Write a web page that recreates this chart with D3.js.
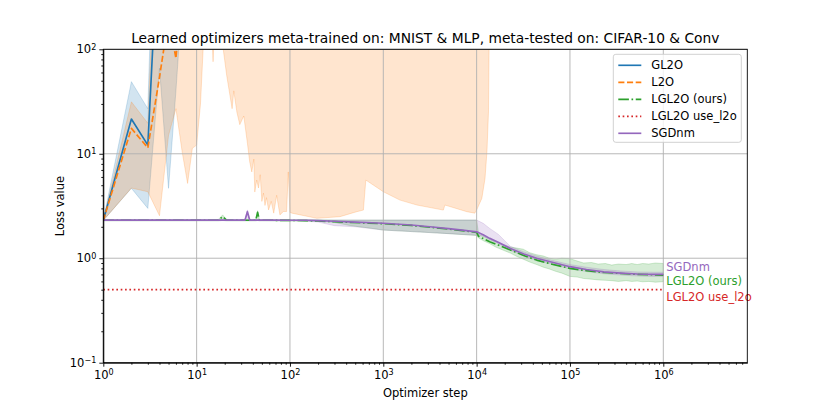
<!DOCTYPE html>
<html>
<head>
<meta charset="utf-8">
<script src="https://cdn.jsdelivr.net/npm/d3@7"></script>
<style>
  html, body { margin: 0; padding: 0; background: #fff; }
  svg text { font-family: 'DejaVu Sans', sans-serif; fill: #000; }
</style>
</head>
<body>
<svg id="chart" width="830" height="415"></svg>
<script>
// GL2O (diverges after a few steps)
const gl2oSteps = [1, 2, 3, 4, 5, 6, 7, 8];
const gl2oMean = [2.3, 21.5, 12.1, 2000, 3000, 5000, 8000, 10000];
const gl2oLow = [2.3, 4.67, 3.0, 66, 4.67, 40, 300, 1000];
const gl2oHigh = [2.3, 49, 27, 1e5, 1e5, 1e5, 1e5, 1e5];

// L2O
const l2oSteps = [1, 2, 3, 4, 5, 6, 7, 8, 20, 100, 1000, 13700];
const l2oMean = [2.3, 17.5, 11.4, 54, 200, 82, 400, 900, 3000, 5000, 8000, 10000];
const l2oHighSteps = [1, 2, 3, 4, 13700];
const l2oHigh = [2.3, 31.4, 19.6, 1e4, 1e4];
const l2oLowSteps = [1, 2, 3, 4, 5, 6, 7, 8, 9, 10, 11, 12, 14, 15, 16, 19, 21, 24, 25, 27,
  29, 32, 35, 37, 39, 41, 42, 44, 46, 48, 50, 52, 54, 56, 59, 63, 67, 72, 78, 85,
  92, 96, 100, 105, 194, 344, 520, 612, 650, 1000, 1510, 2290, 4400, 4570, 7850, 9550,
  10000, 11370, 12300, 12900, 13400, 13700];
const l2oLow = [2.3, 4.7, 4.33, 2.55, 15, 27, 10.4, 5.2, 11.3, 12.1, 30, 150, 300, 76, 300, 110, 56, 27, 40, 25,
  19, 23, 12.6, 8.4, 6.7, 8.9, 4.3, 5.6, 4.7, 6.3, 3.5, 4.2, 3.2, 3.8, 2.9, 3.5, 2.7, 4.0, 2.6, 2.8,
  2.8, 6.7, 2.75, 2.7, 2.41, 2.5, 2.79, 2.89, 5.6, 4.33, 3.6, 3.23, 2.89, 3.23, 2.79, 2.7,
  2.89, 3.74, 5.8, 10.5, 25, 200];

// LGL2O (ours)
const lgSteps = [1, 5, 10, 17, 19, 21, 43, 45, 47, 60, 100, 150, 200, 300, 450, 700, 1000, 2000, 3160, 5000,
  7000, 10000, 10500, 12000, 13800, 17000, 23000, 32000, 44000, 60000, 100000, 150000, 230000, 350000, 525000, 750000, 1000000];
const lgMean = [2.31, 2.31, 2.31, 2.31, 2.5, 2.31, 2.31, 2.75, 2.31, 2.31, 2.30, 2.29, 2.27, 2.24, 2.2, 2.17, 2.14, 2.06, 1.98, 1.9,
  1.84, 1.77, 1.62, 1.53, 1.44, 1.34, 1.2, 1.06, 0.96, 0.89, 0.80, 0.76, 0.73, 0.715, 0.70, 0.695, 0.69];
const lgBandSteps = [1, 10, 17, 19, 21, 43, 45, 47, 100, 200, 300, 450, 700, 1000, 2000, 3160, 5000, 10000,
  10500, 12000, 13800, 16000, 19000, 23000, 27000, 31600, 37000, 44000, 52000, 60000, 70000, 82000, 100000,
  120000, 140000, 170000, 200000, 240000, 280000, 330000, 400000, 460000, 525000, 600000, 700000, 820000, 1000000];
const lgHigh = [2.34, 2.34, 2.34, 2.6, 2.34, 2.34, 2.85, 2.34, 2.34, 2.33, 2.32, 2.32, 2.32, 2.32, 2.32, 2.32, 2.32, 2.32,
  1.70, 1.62, 1.52, 1.45, 1.36, 1.28, 1.25, 1.22, 1.13, 1.08, 1.05, 1.0, 0.98, 1.0, 0.99,
  0.94, 0.90, 0.91, 0.88, 0.89, 0.86, 0.88, 0.87, 0.89, 0.87, 0.89, 0.88, 0.9, 0.89];
const lgLow = [2.28, 2.28, 2.28, 2.3, 2.28, 2.28, 2.3, 2.28, 2.27, 2.26, 2.2, 2.05, 1.95, 1.86, 1.8, 1.76, 1.72, 1.65,
  1.56, 1.46, 1.38, 1.28, 1.2, 1.12, 1.04, 0.98, 0.92, 0.87, 0.82, 0.79, 0.75, 0.72, 0.67,
  0.66, 0.64, 0.63, 0.62, 0.615, 0.61, 0.6, 0.61, 0.6, 0.605, 0.595, 0.6, 0.59, 0.596];

// LGL2O use_l2o
const useSteps = [1, 1000000];
const useMean = [0.5, 0.5];

// SGDnm
const sgdSteps = [1, 5, 10, 19, 33, 35, 37, 45, 60, 100, 150, 200, 300, 500, 1000, 2000, 3160, 5000, 7000, 10000,
  11750, 13800, 17000, 23000, 32000, 44000, 60000, 100000, 150000, 230000, 350000, 525000, 750000, 1000000];
const sgdMean = [2.32, 2.32, 2.32, 2.32, 2.32, 2.79, 2.32, 2.32, 2.32, 2.31, 2.31, 2.29, 2.26, 2.22, 2.16, 2.08, 2.0, 1.92, 1.86, 1.79,
  1.68, 1.55, 1.42, 1.24, 1.1, 1.0, 0.93, 0.83, 0.78, 0.74, 0.72, 0.706, 0.70, 0.70];
const sgdLow = [2.29, 2.29, 2.29, 2.29, 2.29, 2.3, 2.29, 2.29, 2.29, 2.28, 2.26, 2.22, 2.05, 2.0, 1.86, 1.8, 1.76, 1.72, 1.69, 1.66,
  1.62, 1.50, 1.38, 1.19, 1.05, 0.95, 0.89, 0.79, 0.745, 0.71, 0.69, 0.675, 0.67, 0.67];
const sgdHigh = [2.35, 2.35, 2.35, 2.35, 2.35, 2.9, 2.35, 2.35, 2.35, 2.34, 2.33, 2.32, 2.32, 2.32, 2.32, 2.32, 2.32, 2.32, 2.32, 2.32,
  2.16, 1.93, 1.7, 1.3, 1.15, 1.05, 0.97, 0.87, 0.82, 0.78, 0.755, 0.74, 0.735, 0.735];

const xMajor = [1, 10, 100, 1e3, 1e4, 1e5, 1e6];
const yMajor = [0.1, 1, 10, 100];

const zip = (s, v) => s.map((d, i) => [d, v[i]]);

const series = [
  { name: 'GL2O', color: '#1f77b4', dash: null,
    line: zip(gl2oSteps, gl2oMean), up: zip(gl2oSteps, gl2oHigh), low: zip(gl2oSteps, gl2oLow) },
  { name: 'L2O', color: '#ff7f0e', dash: '6.1,2.6',
    line: zip(l2oSteps, l2oMean), up: zip(l2oHighSteps, l2oHigh), low: zip(l2oLowSteps, l2oLow) },
  { name: 'LGL2O (ours)', color: '#2ca02c', dash: '10.6,2.6,1.65,2.6',
    line: zip(lgSteps, lgMean), up: zip(lgBandSteps, lgHigh), low: zip(lgBandSteps, lgLow), tag: 6 },
  { name: 'LGL2O use_l2o', color: '#d62728', dash: '1.65,2.7',
    line: zip(useSteps, useMean), tag: 7 },
  { name: 'SGDnm', color: '#9467bd', dash: null,
    line: zip(sgdSteps, sgdMean), up: zip(sgdSteps, sgdHigh), low: zip(sgdSteps, sgdLow), tag: -7 },
];

const margin = { top: 49.3, right: 82.7, bottom: 52.3, left: 103.3 };
const width = 830 - margin.left - margin.right;
const height = 415 - margin.top - margin.bottom;

const x = d3.scaleLog().domain([1, 10 ** 6.9]).range([0, width]);
const y = d3.scaleLog().domain([0.1, 100]).range([height, 0]);

const svg = d3.select('#chart');
const g = svg.append('g').attr('transform', `translate(${margin.left},${margin.top})`);

g.append('clipPath').attr('id', 'plot-clip')
  .append('rect').attr('width', width).attr('height', height);

const line = d3.line().x(d => x(d[0])).y(d => y(d[1]));

// shaded bands (below grid and lines)
const bands = g.append('g').attr('clip-path', 'url(#plot-clip)');
series.filter(s => s.up).forEach(s => {
  const pts = s.up.concat(s.low.slice().reverse());
  bands.append('path')
    .attr('d', line(pts) + 'Z')
    .attr('fill', s.color)
    .attr('fill-opacity', 0.2)
    .attr('stroke', s.color)
    .attr('stroke-opacity', 0.2)
    .attr('stroke-width', 1);
});

// grid
const grid = g.append('g');
grid.selectAll('.gx').data(xMajor).enter().append('line')
  .attr('x1', d => x(d)).attr('x2', d => x(d))
  .attr('y1', 0).attr('y2', height)
  .attr('stroke', '#b0b0b0').attr('stroke-width', 0.9);
grid.selectAll('.gy').data(yMajor).enter().append('line')
  .attr('y1', d => y(d)).attr('y2', d => y(d))
  .attr('x1', 0).attr('x2', width)
  .attr('stroke', '#b0b0b0').attr('stroke-width', 0.9);

// mean lines
const lines = g.append('g').attr('clip-path', 'url(#plot-clip)');
series.forEach(s => {
  lines.append('path')
    .attr('d', line(s.line))
    .attr('fill', 'none')
    .attr('stroke', s.color)
    .attr('stroke-width', 1.65)
    .attr('stroke-linejoin', 'round')
    .attr('stroke-dasharray', s.dash);
});

// labels at the end of the lines
series.filter(s => s.tag !== undefined).forEach(s => {
  const last = s.line[s.line.length - 1];
  g.append('text')
    .attr('x', x(last[0]) + 3)
    .attr('y', y(last[1]) + s.tag)
    .attr('dy', '0.35em')
    .style('font-size', '11.5px')
    .style('fill', s.color)
    .text(s.name);
});

// axes
const minorTicks = (lo, hi) => {
  const out = [];
  for (let e = lo; e <= hi; e += 1) {
    for (let k = 2; k <= 9; k += 1) out.push(k * 10 ** e);
  }
  return out;
};
const supLabel = (sel, v) => {
  const e = Math.round(Math.log10(v));
  sel.text(null);
  sel.append('tspan').text('10');
  sel.append('tspan').attr('dy', '-0.45em').style('font-size', '0.7em')
    .text(e < 0 ? '\u2212' + (-e) : e);
};

const xAxis = g.append('g').attr('transform', `translate(0,${height})`)
  .call(d3.axisBottom(x).tickValues(xMajor).tickSize(4).tickSizeOuter(0).tickPadding(4));
xAxis.selectAll('.tick text').style('font-size', '11.5px').each(function (d) { supLabel(d3.select(this), d); });
g.append('g').attr('transform', `translate(0,${height})`)
  .call(d3.axisBottom(x).tickValues(minorTicks(0, 6).filter(v => v < 10 ** 6.9)).tickSize(2).tickSizeOuter(0).tickFormat(''))
  .call(a => a.select('.domain').remove());

const yAxis = g.append('g')
  .call(d3.axisLeft(y).tickValues(yMajor).tickSize(4).tickSizeOuter(0).tickPadding(3));
yAxis.selectAll('.tick text').style('font-size', '11.5px').each(function (d) { supLabel(d3.select(this), d); });
g.append('g')
  .call(d3.axisLeft(y).tickValues(minorTicks(-1, 1)).tickSize(2).tickSizeOuter(0).tickFormat(''))
  .call(a => a.select('.domain').remove());

g.selectAll('.domain').attr('stroke', '#000').attr('stroke-width', 0.9);
g.selectAll('.tick line').attr('stroke', '#000').attr('stroke-width', 0.9);

// top and right spines
g.append('rect').attr('width', width).attr('height', height)
  .attr('fill', 'none').attr('stroke', '#000').attr('stroke-width', 0.9);

// axis titles
g.append('text')
  .attr('x', width / 2).attr('y', height + 34)
  .style('text-anchor', 'middle').style('font-size', '11.5px')
  .text('Optimizer step');
g.append('text')
  .attr('transform', 'rotate(-90)')
  .attr('x', -height / 2).attr('y', -39)
  .style('text-anchor', 'middle').style('font-size', '11.5px')
  .text('Loss value');
g.append('text')
  .attr('x', width / 2).attr('y', -6)
  .style('text-anchor', 'middle').style('font-size', '13.8px')
  .text('Learned optimizers meta-trained on: MNIST & MLP, meta-tested on: CIFAR-10 & Conv');

// legend
const legend = g.append('g').attr('transform', `translate(${width - 134},5)`);
legend.append('rect')
  .attr('width', 128).attr('height', 88).attr('rx', 2.5)
  .attr('fill', '#fff').attr('fill-opacity', 0.8)
  .attr('stroke', '#cccccc').attr('stroke-width', 0.9);
series.forEach((s, i) => {
  const row = legend.append('g').attr('transform', `translate(0,${11 + i * 17})`);
  row.append('line')
    .attr('x1', 5).attr('x2', 28)
    .attr('stroke', s.color).attr('stroke-width', 1.65)
    .attr('stroke-dasharray', s.dash);
  row.append('text')
    .attr('x', 38).attr('dy', '0.35em')
    .style('font-size', '11.5px')
    .text(s.name);
});
</script>
</body>
</html>
